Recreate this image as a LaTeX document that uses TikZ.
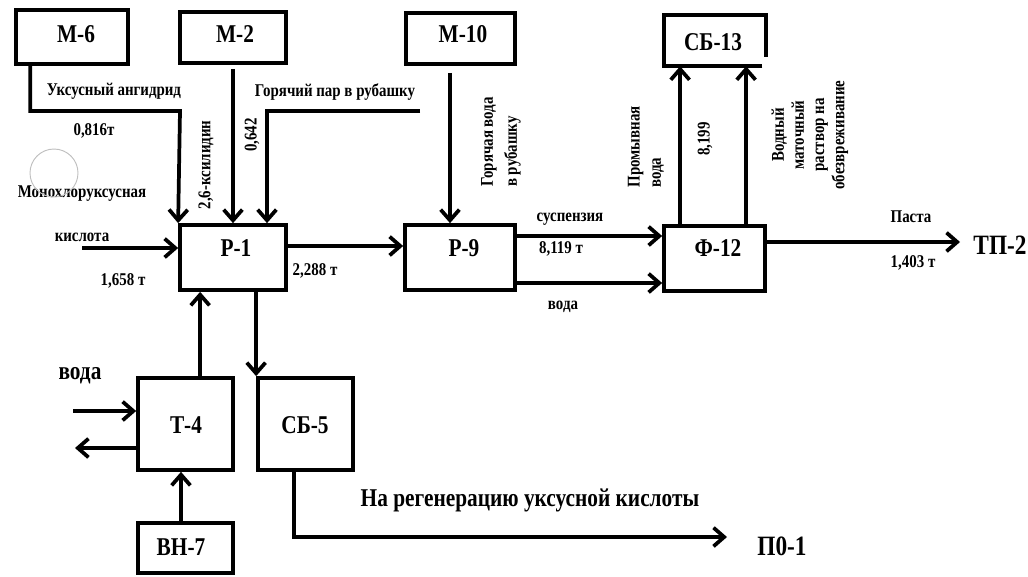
\documentclass[tikz,border=0pt]{standalone}
\usepackage{fontspec}
\usepackage{graphicx}
\setmainfont{Liberation Serif}
\usetikzlibrary{arrows.meta,calc}
\newcommand{\tall}[1]{\scalebox{1}[1.2]{#1}}
\newcommand{\stackl}[1]{\tall{\begin{tabular}{@{}l@{}}#1\end{tabular}}}
\newcommand{\stackc}[1]{\tall{\begin{tabular}{@{}c@{}}#1\end{tabular}}}
\begin{document}
\begin{tikzpicture}[x=0.75pt,y=-0.75pt,
  box/.style={draw,line width=2.8pt,inner sep=0pt},
  nobox/.style={inner sep=0pt},
  pipe/.style={line width=2.8pt},
  flow/.style={line width=2.8pt,-{Straight Barb[length=8pt,width=14pt]}},
  big/.style={font=\bfseries\fontsize{16}{18}\selectfont,inner sep=0pt},
  bigger/.style={font=\bfseries\fontsize{17.5}{20}\selectfont,inner sep=0pt},
  sm/.style={font=\bfseries\fontsize{11.2}{13}\selectfont,inner sep=0pt},
  vert/.style={sm,rotate=90},
]
\useasboundingbox (0,0) rectangle (1028,576);

% boxes
\node[box,minimum width=84pt,minimum height=40.5pt] (M6) at (72,37) {};
\node[box,minimum width=79.5pt,minimum height=38.25pt] (M2) at (233,37.5) {};
\node[box,minimum width=81.75pt,minimum height=38.25pt] (M10) at (460.5,38.5) {};
\node[nobox,minimum width=76.5pt,minimum height=38.25pt] (SB13) at (715,40.5) {};
\node[box,minimum width=79.5pt,minimum height=48.75pt] (P1) at (233,257.5) {};
\node[box,minimum width=82.5pt,minimum height=48.75pt] (P9) at (460,257.5) {};
\node[box,minimum width=75.75pt,minimum height=48.75pt] (F12) at (714.5,258.5) {};
\node[box,minimum width=71.25pt,minimum height=69pt] (T4) at (185.5,424) {};
\node[box,minimum width=71.25pt,minimum height=69pt] (SB5) at (305.5,424) {};
\node[box,minimum width=71.25pt,minimum height=37.5pt] (VN7) at (185.5,548) {};
\draw[pipe] ($(SB13.south east)+(-4,0)$) -- (SB13.south west) -- (SB13.north west)
  -- (SB13.north east) -- ($(SB13.south east)+(0,-9)$);

% box labels
\node[big] (M6t) at (76,34) {\tall{М-6}};
\node[big] (M2t) at (235,34) {\tall{М-2}};
\node[big] (M10t) at (463,34) {\tall{М-10}};
\node[big] (SB13t) at (713,42) {\tall{СБ-13}};
\node[big] (P1t) at (236,248) {\tall{Р-1}};
\node[big] (P9t) at (464,248) {\tall{Р-9}};
\node[big] (F12t) at (718,248) {\tall{Ф-12}};
\node[big] (T4t) at (186,425) {\tall{Т-4}};
\node[big] (SB5t) at (305,425) {\tall{СБ-5}};
\node[big] (VN7t) at (181,547) {\tall{ВН-7}};
\node[bigger] (TP2) at (1000,245) {\tall{ТП-2}};
\node[bigger] (P01) at (782,546) {\tall{П0-1}};

% free ends
\coordinate (steam) at (420,111);
\coordinate (mono) at (82,248);
\coordinate (win) at (73,411);
\coordinate (wout) at (75,448);
\coordinate (tp2in) at (960,242);
\coordinate (p01in) at (727,537);

% connectors
\draw[flow] ($(M6.south west)+(16,0)$) |- (180,111) -- (P1.north west);
\draw[flow] ($(M2.south)+(0,4)$) -- (P1.north);
\draw[flow] (steam) -| ($(P1.north)+(34,0)$);
\draw[flow] (mono) -- (P1.west |- mono);
\draw[flow] ($(P1.east)+(0,-11.5)$) coordinate (r1) -- (P9.west |- r1);
\draw[flow] ($(M10.south)+(-10.5,7)$) coordinate (m10o) -- (P9.north -| m10o);
\draw[flow] ($(P9.east)+(0,-21.5)$) coordinate (s1) -- (F12.west |- s1);
\draw[flow] ($(P9.east)+(0,25.5)$) coordinate (s2) -- (F12.west |- s2);
\draw[flow] ($(F12.north west)+(18,0)$) coordinate (u1) -- (SB13.south -| u1);
\draw[flow] ($(F12.north west)+(84,0)$) coordinate (u2) -- (SB13.south -| u2);
\draw[flow] (F12.east |- tp2in) -- (tp2in);
\draw[flow] ($(T4.north west)+(64,0)$) coordinate (t1) -- (P1.south -| t1);
\draw[flow] (P1.south -| SB5.north west) -- (SB5.north west);
\draw[flow] (win) -- (T4.west |- win);
\draw[flow] (T4.west |- wout) -- (wout);
\draw[flow] ($(VN7.north)+(-4.5,0)$) coordinate (v1) -- (T4.south -| v1);
\draw[flow] ($(SB5.south west)+(38,0)$) |- (p01in);

% labels
\node[sm] (l1) at (114,91) {\tall{Уксусный ангидрид}};
\node[sm] (l2) at (94,131) {\tall{0,816т}};
\node[sm] (l3) at (82,194) {\tall{Монохлоруксусная}};
\node[sm] (l4) at (82,237) {\tall{кислота}};
\node[sm] (l5) at (123,281) {\tall{1,658 т}};
\node[vert] (l6) at (206,165) {\tall{2,6-ксилидин}};
\node[vert] (l7) at (252,135) {\tall{0,642}};
\node[sm] (l8) at (335,92) {\tall{Горячий пар в рубашку}};
\node[sm] (l9) at (315,271) {\tall{2,288 т}};
\node[vert,font=\bfseries\fontsize{11.2}{15}\selectfont] (l10) at (500,142) {\stackl{Горячая вода\\в рубашку}};
\node[sm] (l11) at (570,219) {\tall{суспензия}};
\node[sm] (l12) at (561,249) {\tall{8,119 т}};
\node[sm] (l13) at (563,307) {\tall{вода}};
\node[vert,font=\bfseries\fontsize{11.2}{13.2}\selectfont] (l14) at (646,147) {\stackl{Промывная\\вода}};
\node[vert] (l15) at (705,139) {\tall{8,199}};
\node[vert,font=\bfseries\fontsize{11.2}{12.6}\selectfont] (l16) at (810,135) {\stackc{Водный\\маточный\\раствор на\\обезвреживание}};
\node[sm] (l17) at (911,217) {\tall{Паста}};
\node[sm] (l18) at (913,263) {\tall{1,403 т}};
\node[big] (l19) at (80,376) {\tall{вода}};
\node[big] (l20) at (530,500) {\tall{На регенерацию уксусной кислоты}};

% faint circle
\draw[gray!50,line width=0.7pt] (54,173) circle[radius=18pt];
\end{tikzpicture}
\end{document}
